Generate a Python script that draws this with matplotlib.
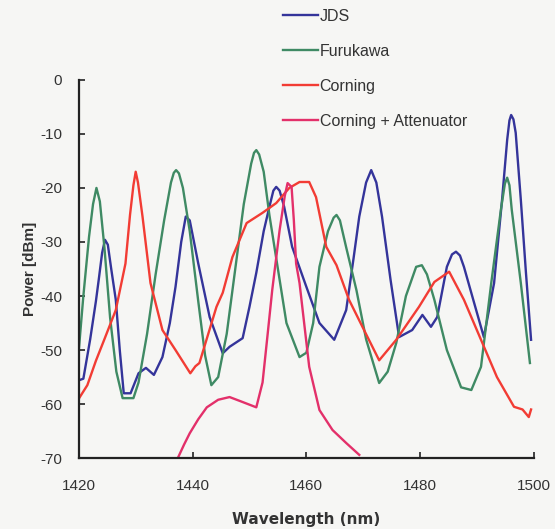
import matplotlib.pyplot as plt

# wavelength (nm) / power (dBm)
jds_wl = [1420, 1420.8, 1422, 1423, 1423.5, 1424.1, 1424.6, 1425.1, 1425.7, 1426.5, 1427.2, 1427.9,
          1429.1, 1430.5, 1431.8, 1433.2, 1434.7, 1436, 1437, 1438, 1438.8, 1439.5, 1441, 1443,
          1445.3, 1446.5, 1448.8, 1450, 1451.2, 1452.5, 1453.5, 1454.2, 1454.7, 1455.3, 1456.1,
          1457.5, 1460, 1462.3, 1464.9, 1467, 1468.3, 1469.3, 1470.5, 1471.4, 1472.3, 1473.3,
          1474.8, 1476.3, 1478.6, 1480.4, 1481.9, 1483, 1484.7, 1485.6, 1486.3, 1487, 1487.7,
          1489.5, 1491.2, 1493, 1494.4, 1495.3, 1495.7, 1496, 1496.4, 1496.8, 1497.7, 1498.6, 1499.5]
jds_p = [-55.6, -55.3, -48, -41, -37, -32, -29.6, -30.5, -35, -40.7, -50, -58,
         -58, -54.3, -53.3, -54.6, -51.3, -45, -38.3, -30, -25.3, -26, -34, -43.9,
         -50.6, -49.4, -47.8, -42, -35.7, -28, -23.5, -20.5, -19.8, -20.5, -23.5,
         -30.9, -38.3, -45, -48.1, -42.6, -33, -25.3, -19, -16.7, -19, -25.3,
         -37, -47.6, -46.3, -43.5, -45.7, -43.9, -34.6, -32.3, -31.8, -32.5, -34.6,
         -41.3, -47.6, -37.6, -22.2, -11.1, -7.5, -6.5, -7.3, -9.8, -22.2, -35.7, -48.1]

fur_wl = [1420, 1420.8, 1421.8, 1422.5, 1423.1, 1423.7, 1424.5, 1425.5, 1426.6, 1427.7, 1428.7,
          1429.6, 1430.5, 1432, 1433.5, 1435, 1436.2, 1436.7, 1437.1, 1437.6, 1438.3, 1439.5,
          1441, 1442.2, 1443.3, 1444.5, 1446, 1447.5, 1449, 1450.3, 1450.8, 1451.2, 1451.7,
          1452.5, 1453.5, 1455, 1456.5, 1458.8, 1460, 1461.2, 1462.3, 1463.8, 1464.8, 1465.3,
          1465.9, 1467, 1468.8, 1470.5, 1472.8, 1474.3, 1475.8, 1477.5, 1479.3, 1480.3, 1481.2,
          1482.5, 1484.7, 1487.2, 1489, 1490.7, 1492.5, 1494.2, 1494.9, 1495.3, 1495.7, 1496.1,
          1497.7, 1499.3]
fur_p = [-50, -40, -29, -23, -20, -22.5, -31, -44, -54, -58.9, -58.9,
         -58.9, -56, -47, -36, -26, -19, -17.2, -16.7, -17.3, -20, -28,
         -41, -51, -56.5, -55, -47, -35, -23, -15.5, -13.5, -13, -13.8,
         -17, -25, -35, -45, -51.3, -50.5, -45, -34.6, -28, -25.5, -25,
         -26, -31, -38.9, -48, -56.1, -54, -48.7, -40, -34.6, -34.3, -36,
         -40.7, -50, -56.9, -57.4, -53.1, -37.6, -24, -19.2, -18.1, -19.5, -24,
         -37.6, -52.4]

cor_wl = [1420, 1421.5, 1423, 1424.5, 1426.5, 1428.2, 1429, 1429.6, 1430, 1430.4, 1431.2,
          1432.6, 1434.7, 1437, 1439.6, 1440.5, 1441.2, 1444.2, 1445.3, 1447, 1449.5, 1452.3,
          1454.7, 1457, 1458.8, 1460.5, 1461.7, 1463.5, 1465.3, 1467.5, 1470, 1472.8, 1475.8,
          1479.8, 1482.5, 1485.1, 1487.7, 1490.7, 1493.5, 1496.5, 1498, 1499.1, 1499.5]
cor_p = [-59, -56.5, -52, -48, -42.6, -34, -25, -19.5, -17, -19, -25.3,
         -37.6, -46.3, -50, -54.3, -53, -52.4, -42, -39.4, -32.8, -26.5, -24.6,
         -22.8, -20, -18.9, -18.9, -21.7, -30.9, -34.3, -40.7, -46, -51.9, -48.1,
         -42, -37.4, -35.5, -40.7, -48.1, -55, -60.5, -61, -62.4, -61]

att_wl = [1437.4, 1438.5, 1439.5, 1441, 1442.5, 1444.5, 1446.5, 1448.5, 1451.2, 1452.3, 1453.2,
          1454, 1455.3, 1456.2, 1456.7, 1457.4, 1457.8, 1458.2, 1458.8, 1460.5, 1462.3, 1464.6,
          1467, 1469.3]
att_p = [-70, -67.5, -65.4, -62.8, -60.6, -59.2, -58.7, -59.5, -60.6, -56, -47,
         -38.9, -27.8, -21.5, -19.1, -19.8, -26, -34, -37.6, -53.1, -61.1, -64.8,
         -67.2, -69.4]

labels = ['JDS', 'Furukawa', 'Corning', 'Corning + Attenuator']
colors = ['#34349a', '#3f8a64', '#f23c34', '#e3306a']

plt.rcParams['font.family'] = ['Liberation Sans', 'DejaVu Sans']
plt.rcParams['axes.unicode_minus'] = False
bg = '#f6f6f4'

fig = plt.figure(figsize=(5.55, 5.29), dpi=100, facecolor=bg)
ax = fig.add_axes([0.142, 0.134, 0.820, 0.715], facecolor=bg)

for wl, p, lab, c in zip([jds_wl, fur_wl, cor_wl, att_wl], [jds_p, fur_p, cor_p, att_p], labels, colors):
    ax.plot(wl, p, color=c, lw=1.7, label=lab)

ax.set_xlim(1420, 1500)
ax.set_ylim(-70, 0)
ax.set_xticks(range(1420, 1501, 20))
ax.set_yticks(range(-70, 1, 10))
ax.spines['top'].set_visible(False)
ax.spines['right'].set_visible(False)
for s in ['left', 'bottom']:
    ax.spines[s].set_linewidth(1.6)
    ax.spines[s].set_color('#222222')
ax.tick_params(direction='in', length=4, width=1.2, labelsize=11, colors='#222222', labelcolor='#333333')
ax.tick_params(axis='x', pad=15)
ax.tick_params(axis='y', pad=12)

ax.set_xlabel('Wavelength (nm)', fontsize=11, fontweight='bold', color='#333333', labelpad=14,
              family='DejaVu Sans')
ax.set_ylabel('Power [dBm]', fontsize=11, fontweight='bold', color='#333333', labelpad=2)

fig.legend(loc='upper left', bbox_to_anchor=(283 / 555, 1 - 9 / 529), frameon=False, fontsize=11.5,
           handlelength=2.2, handletextpad=0.1, labelspacing=1.25, borderpad=0, borderaxespad=0,
           labelcolor='#333333')

fig.savefig('out.png', dpi=100, facecolor=bg)
